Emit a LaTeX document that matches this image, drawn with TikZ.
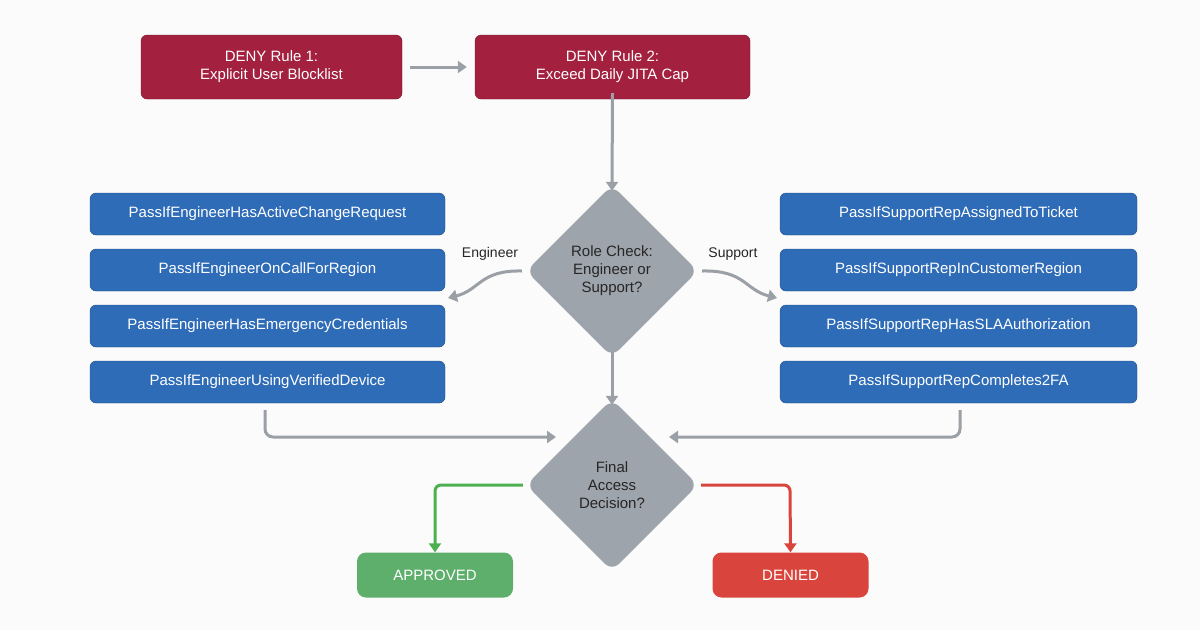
\documentclass[tikz,border=0pt]{standalone}
\usepackage{fontspec}
\setmainfont{Liberation Sans}
\usetikzlibrary{shapes.geometric,arrows.meta}
\definecolor{denyred}{HTML}{A3203F}
\definecolor{pblue}{HTML}{2F6CB8}
\definecolor{dgray}{HTML}{9EA4AB}
\definecolor{agray}{HTML}{9AA0A6}
\definecolor{okgreen}{HTML}{5DAF6B}
\definecolor{okgreenA}{HTML}{4CAF50}
\definecolor{badred}{HTML}{D9453C}
\tikzset{
 deny/.style={fill=denyred,draw=denyred!70!black,rounded corners=6pt,text=white,font=\fontsize{15}{18}\selectfont,align=center,minimum height=64pt},
 pbox/.style={fill=pblue,draw=pblue!70!black,rounded corners=6pt,text=white,font=\fontsize{15}{18}\selectfont,minimum width=355pt,minimum height=42pt},
 dia/.style={diamond,fill=dgray,rounded corners=10pt,align=center,font=\fontsize{15}{18}\selectfont,text=black!85,minimum width=172pt,minimum height=172pt,inner sep=0pt},
 conn/.style={draw=agray,line width=3pt,-{Triangle[length=9pt,width=12pt]}},
 lbl/.style={font=\fontsize{14}{17}\selectfont,text=black!85},
 outbox/.style={rounded corners=9pt,text=white,font=\fontsize{15}{18}\selectfont,minimum width=156pt,minimum height=45pt}
}
\begin{document}
\begin{tikzpicture}[x=1pt,y=-1pt]
\fill[white!97!gray] (0,0) rectangle (1200,630);
\useasboundingbox (0,0) rectangle (1200,630);
\node[deny,minimum width=261pt] (d1) at (271.5,67) {DENY Rule 1:\\Explicit User Blocklist};
\node[deny,minimum width=275pt] (d2) at (612.5,67) {DENY Rule 2:\\Exceed Daily JITA Cap};
\node[dia] (rc) at (612,271) {Role Check:\\Engineer or\\Support?};
\node[dia] (fd) at (612,485) {Final\\Access\\Decision?};
\foreach \n/\y/\t in {l1/214/PassIfEngineerHasActiveChangeRequest,l2/270/PassIfEngineerOnCallForRegion,l3/326/PassIfEngineerHasEmergencyCredentials,l4/382/PassIfEngineerUsingVerifiedDevice}
  \node[pbox] (\n) at (267.5,\y) {\t};
\foreach \n/\y/\t in {r1/214/PassIfSupportRepAssignedToTicket,r2/270/PassIfSupportRepInCustomerRegion,r3/326/PassIfSupportRepHasSLAAuthorization,r4/382/PassIfSupportRepCompletes2FA}
  \node[pbox,minimum width=357pt] (\n) at (958.5,\y) {\t};
\node[lbl] (le) at (490,254) {Engineer};
\node[lbl] (ls) at (733,254) {Support};
\node[outbox,fill=okgreen] (ap) at (435,575) {APPROVED};
\node[outbox,fill=badred] (dn) at (790.5,575) {DENIED};
\draw[conn] (d1.east)+(8,0) -- ([xshift=-8pt]d2.west);
\draw[conn] ([yshift=6pt]d2.south) -- ([yshift=-6pt]rc.north);
\draw[conn] ([xshift=-4pt]rc.west) .. controls (480,270) and (480,290) .. (448,298);
\draw[conn] ([xshift=4pt]rc.east) .. controls (745,270) and (745,290) .. (777,298);
\draw[conn] ([yshift=6pt]rc.south) -- ([yshift=-6pt]fd.north);
\draw[conn,rounded corners=8pt] (265,410) -- (265,437) -- (556,437);
\draw[conn,rounded corners=8pt] (960,410) -- (960,437) -- (669,437);
\draw[draw=okgreenA,line width=3pt,-{Triangle[length=9pt,width=12pt]},rounded corners=6pt] ([xshift=-3pt]fd.west) -- (435,485) -- (ap.north);
\draw[draw=badred,line width=3pt,-{Triangle[length=9pt,width=12pt]},rounded corners=6pt] ([xshift=3pt]fd.east) -- (790,485) -- (dn.north);
\end{tikzpicture}
\end{document}
